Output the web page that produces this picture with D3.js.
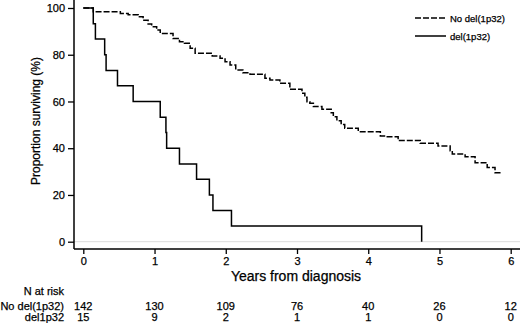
<!DOCTYPE html>
<meta charset="utf-8">
<style>
    body { margin: 0; background: #fff; }
    svg text { font-family: "Liberation Sans", Arial, sans-serif; fill: #000; stroke: #000; stroke-width: 0.25px; }
    .tick text { font-size: 11px; }
</style>
<body>
<script src="https://d3js.org/d3.v7.min.js"></script>
<script>
    // Kaplan-Meier steps: time (years), survival (%)
    const noDelTimes = [0, 0.14, 0.52, 0.63, 0.77, 0.84, 0.91, 0.96, 1.03, 1.08, 1.26, 1.35, 1.42, 1.50, 1.57,
        1.81, 1.92, 1.99, 2.06, 2.14, 2.24, 2.34, 2.55, 2.62, 2.76, 2.90, 3.07, 3.11, 3.14, 3.18, 3.23, 3.35,
        3.48, 3.51, 3.56, 3.62, 3.67, 3.86, 4.17, 4.25, 4.42, 4.73, 4.98, 5.15, 5.18, 5.36, 5.50, 5.67, 5.78, 5.87];
    const noDelSurv = [100, 98.4, 97.7, 97.1, 96.3, 94.8, 93.2, 92.0, 90.6, 89.1, 87.0, 85.6, 84.9, 82.8, 80.6,
        79.5, 78.5, 77.0, 75.6, 73.5, 72.3, 71.6, 69.9, 69.2, 67.8, 65.2, 63.5, 61.8, 59.9, 59.2, 57.8, 56.7,
        55.2, 53.5, 51.8, 50.2, 48.5, 47.1, 45.2, 44.9, 43.3, 42.1, 41.0, 38.9, 37.5, 36.4, 33.8, 31.8, 29.5, 29.5];

    const delTimes = [0, 0.14, 0.17, 0.30, 0.32, 0.48, 0.70, 1.08, 1.16, 1.17, 1.35, 1.59, 1.77, 1.82, 2.08, 4.75];
    const delSurv = [100, 93.3, 86.7, 80.0, 73.3, 66.7, 60.0, 53.3, 46.7, 40.0, 33.3, 26.7, 20.0, 13.3, 6.7, 0];

    const xTicks = [0, 1, 2, 3, 4, 5, 6];
    const yTicks = [0, 20, 40, 60, 80, 100];
    const riskGroups = ["No del(1p32)", "del1p32"];
    const riskNoDel = [142, 130, 109, 76, 40, 26, 12];
    const riskDel = [15, 9, 2, 1, 1, 0, 0];
    const legendLabels = ["No del(1p32)", "del(1p32)"];

    const width = 520, height = 323;
    const axisX = 74, axisY = 249;

    const svg = d3.select("body").append("svg")
        .attr("width", width)
        .attr("height", height);

    const x = d3.scaleLinear().domain([0, 6]).range([83.3, 510.7]);
    const y = d3.scaleLinear().domain([0, 100]).range([241.7, 8]);

    // light reference line at 0
    svg.append("line")
        .attr("x1", axisX).attr("x2", width)
        .attr("y1", y(0)).attr("y2", y(0))
        .attr("stroke", "#dcdcdc").attr("stroke-width", 1);

    // y axis
    const yAxis = svg.append("g")
        .attr("transform", "translate(" + axisX + ",0)")
        .call(d3.axisLeft(y).tickValues(yTicks).tickFormat(d3.format("d")).tickSize(6).tickPadding(3));
    yAxis.select(".domain").attr("d", "M0,0V" + axisY).attr("stroke-width", 1.5);
    yAxis.selectAll(".tick line").attr("stroke-width", 1.3);

    // x axis
    const xAxis = svg.append("g")
        .attr("transform", "translate(0," + axisY + ")")
        .call(d3.axisBottom(x).tickValues(xTicks).tickFormat(d3.format("d")).tickSize(5).tickPadding(3));
    xAxis.select(".domain").attr("d", "M" + axisX + ",0H" + width).attr("stroke-width", 1.5);
    xAxis.selectAll(".tick line").attr("stroke-width", 1.3);

    // axis titles
    svg.append("text")
        .attr("x", 296).attr("y", 281)
        .attr("text-anchor", "middle")
        .style("font-size", "14px")
        .text("Years from diagnosis");

    svg.append("text")
        .attr("transform", "translate(40,121) rotate(-90)")
        .attr("text-anchor", "middle")
        .style("font-size", "12px")
        .text("Proportion surviving (%)");

    // curves
    const line = d3.line()
        .x(d => x(d[0]))
        .y(d => y(d[1]))
        .curve(d3.curveStepAfter);

    const noDel = noDelTimes.map((t, i) => [t, noDelSurv[i]]);
    const del = delTimes.map((t, i) => [t, delSurv[i]]);

    svg.append("path")
        .datum(noDel)
        .attr("d", line)
        .attr("fill", "none")
        .attr("stroke", "#000")
        .attr("stroke-width", 1.5)
        .attr("stroke-dasharray", "6,2");

    svg.append("path")
        .datum(del)
        .attr("d", line)
        .attr("fill", "none")
        .attr("stroke", "#000")
        .attr("stroke-width", 1.5);

    // legend
    const legend = svg.append("g").attr("transform", "translate(415,18)");
    legendLabels.forEach(function(lab, i) {
        const g = legend.append("g").attr("transform", "translate(0," + (i * 18) + ")");
        g.append("line")
            .attr("x1", 0).attr("x2", 31)
            .attr("stroke", "#000").attr("stroke-width", 1.5)
            .attr("stroke-dasharray", i === 0 ? "6,2" : null);
        g.append("text")
            .attr("x", 35).attr("y", 3.5)
            .style("font-size", "9.5px")
            .text(lab);
    });

    // numbers at risk
    svg.append("text")
        .attr("x", 64).attr("y", 295)
        .attr("text-anchor", "end")
        .style("font-size", "11px")
        .text("N at risk");

    [riskNoDel, riskDel].forEach(function(row, r) {
        const yy = 310 + r * 11;
        svg.append("text")
            .attr("x", 64).attr("y", yy)
            .attr("text-anchor", "end")
            .style("font-size", "11px")
            .text(riskGroups[r]);
        svg.selectAll(null)
            .data(row)
            .join("text")
                .attr("x", (d, i) => x(xTicks[i]))
                .attr("y", yy)
                .attr("text-anchor", "middle")
                .style("font-size", "11px")
                .text(d => d);
    });
</script>
</body>
